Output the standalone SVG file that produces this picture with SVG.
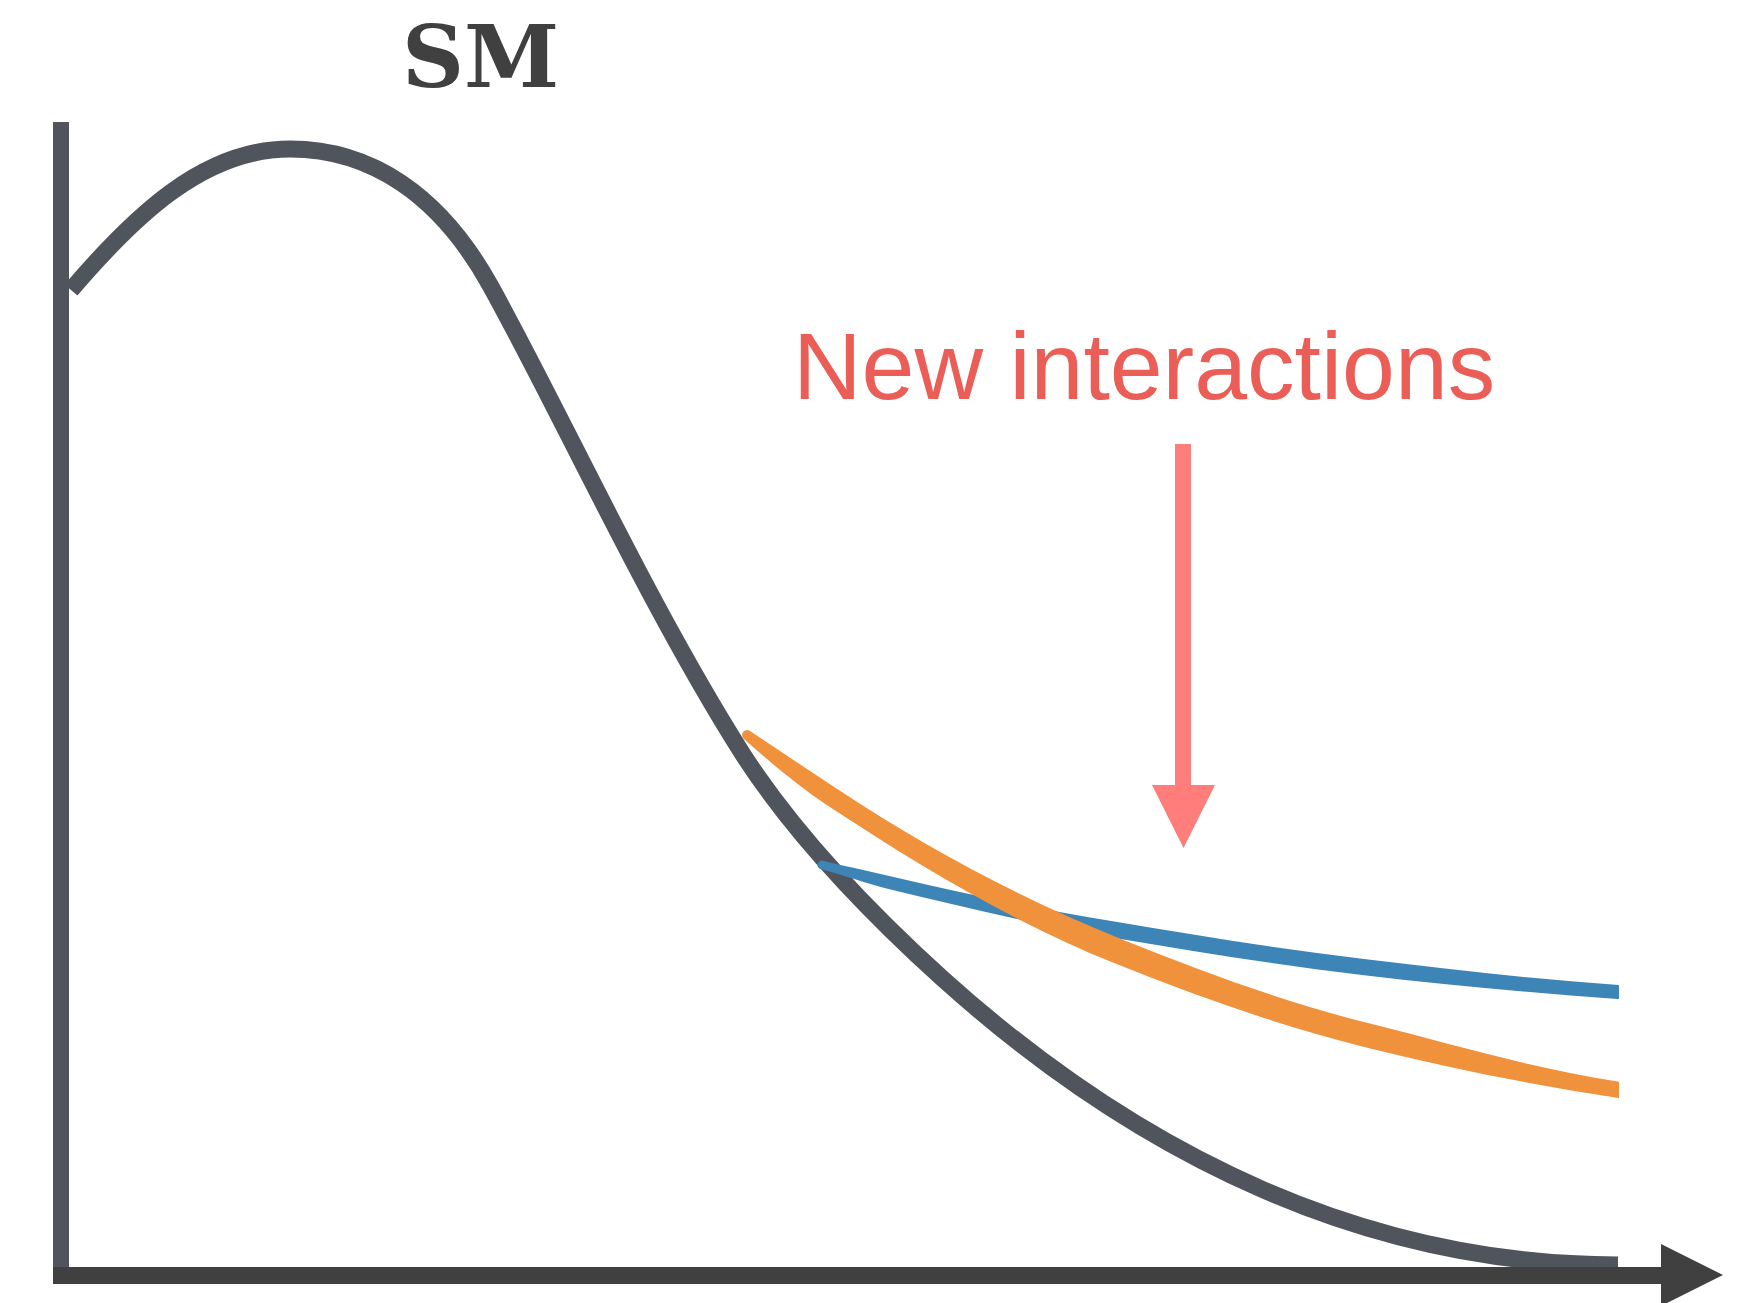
<svg xmlns="http://www.w3.org/2000/svg" width="1753" height="1303" viewBox="0 0 1753 1303">
  <style>
    .axis-x { fill: #404040; }
    .axis-y { fill: #50555d; }
    .sm-curve { fill: none; stroke: #50555d; stroke-width: 17; stroke-linecap: butt; stroke-linejoin: round; }
    .title { font-family: "DejaVu Serif", "Liberation Serif", serif; font-weight: 700; font-size: 86px; fill: #404040; }
    .label { font-family: "Liberation Sans", Arial, Helvetica, sans-serif; font-size: 95px; fill: #eb5e58; }
    .blue { fill: #3d84b7; }
    .orange { fill: #f0913b; }
    .pointer { fill: #ff7d7b; }
  </style>
  <defs>
    <clipPath id="plot-right">
      <rect x="0" y="0" width="1619" height="1303"/>
    </clipPath>
  </defs>

  <rect width="1753" height="1303" fill="#ffffff"/>

  <!-- title -->
  <g id="title-sm">
    <text class="title" x="402" y="87">SM</text>
  </g>

  <!-- Standard Model distribution -->
  <g id="curve-sm">
    <path class="sm-curve" d="M71,290 C135,215 204,149 290,149 C371,149 440,195 490,285 C560,411 647,603 742,753 C796,837 869,912 943,979 C1143,1159 1370,1265 1618,1265"/>
  </g>

  <!-- blue deviation: tapered brush band -->
  <g id="curve-blue" clip-path="url(#plot-right)">
    <path class="blue" d="M820.91,869.37 C844.21,875.17 866.19,883.72 889.49,889.32 C962.39,906.82 1034.66,924.29 1108.66,936.89 C1192.46,951.19 1277.65,964.84 1362.05,974.94 C1446.45,985.04 1532.71,992.99 1617.51,998.99 L1620,998.99 L1620,985.01 L1618.49,985.01 C1533.69,979.01 1448.35,969.16 1363.95,959.06 C1279.55,948.96 1195.14,935.41 1111.34,921.11 C1037.34,908.51 965.41,894.18 892.51,876.68 C869.21,871.08 846.39,866.43 823.09,860.63 A4.5,4.5 0 0 0 820.91,869.37 Z"/>
  </g>

  <!-- orange deviation: tapered brush band -->
  <g id="curve-orange" clip-path="url(#plot-right)">
    <path class="orange" d="M743.95,738.96 C770.13,762.34 797.57,785.63 826.77,804.93 C917.77,864.93 1014.16,923.2 1115.36,963.6 C1196.06,995.9 1278.68,1025.54 1363.08,1046.64 C1447.48,1067.74 1532.82,1085.01 1618.82,1097.91 L1622,1097.91 L1622,1082.09 L1621.18,1082.09 C1535.18,1069.19 1453.32,1044.46 1368.92,1023.36 C1284.52,1002.26 1205.34,972.7 1124.64,940.4 C1023.44,900 928.23,849.07 837.23,789.07 C808.03,769.77 779.28,750.46 750.05,731.04 A5,5 0 0 0 743.95,738.96 Z"/>
  </g>

  <!-- axes -->
  <g id="axes">
    <rect class="axis-y" x="53" y="122" width="16" height="1162"/>
    <rect class="axis-x" x="53" y="1267" width="1609" height="17"/>
    <polygon class="axis-x" points="1661,1244 1723,1275 1661,1306"/>
  </g>

  <!-- annotation -->
  <g id="label-new-interactions">
    <text class="label" x="793" y="399">New interactions</text>
  </g>

  <g id="connectors">
    <rect class="pointer" x="1175" y="444" width="16" height="343"/>
    <polygon class="pointer" points="1152,785 1215,785 1183.5,848"/>
  </g>
</svg>
